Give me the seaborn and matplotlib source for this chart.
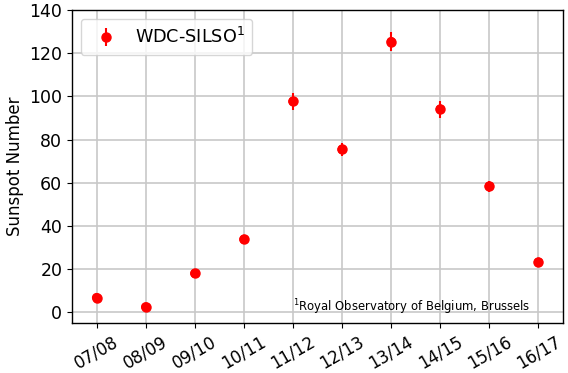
import matplotlib
matplotlib.use("Agg")
import matplotlib.pyplot as plt
import seaborn as sns
import pandas as pd

seasons = ["07/08", "08/09", "09/10", "10/11", "11/12", "12/13", "13/14", "14/15", "15/16", "16/17"]
sunspots = [6.8, 2.5, 18.0, 33.8, 97.7, 75.4, 125.4, 94.1, 58.4, 23.2]
errors = [1.5, 1.0, 1.5, 2.0, 4.0, 3.0, 4.5, 4.0, 2.5, 1.5]

sns.set_style("ticks")
plt.rcParams['font.family'] = ['DejaVu Sans']
plt.rcParams.update({"text.color": "black", "axes.labelcolor": "black",
                     "xtick.color": "black", "ytick.color": "black"})

df = pd.DataFrame({"x": range(len(seasons)), "season": seasons, "ssn": sunspots, "err": errors})

fig = plt.figure(figsize=(5.68, 3.73), dpi=100)
ax = fig.add_axes([0.1268, 0.134, 0.8644, 0.839])

ax.errorbar(df["x"], df["ssn"], yerr=df["err"], fmt="o", color="red", ecolor="red",
            markersize=6.5, elinewidth=1.5, capsize=0, label="WDC-SILSO$^1$", zorder=3)
sns.scatterplot(data=df, x="x", y="ssn", color="red", s=45, edgecolor="none", legend=False, ax=ax, zorder=4)

ax.set_xlim(-0.5, 9.5)
ax.set_ylim(-5, 140)
ax.set_xticks(range(len(seasons)))
ax.set_xticklabels(seasons, rotation=30, ha="center", fontsize=12)
ax.tick_params(axis="x", pad=3.5)
ax.set_yticks(range(0, 141, 20))
ax.tick_params(axis="y", labelsize=12.5)
ax.set_xlabel("")
ax.set_ylabel("Sunspot Number", fontsize=12)
ax.grid(True, color="#c8c8c8", linewidth=1.2)
ax.set_axisbelow(True)
for s in ax.spines.values():
    s.set_visible(True)
    s.set_color("black")
    s.set_linewidth(1.0)

leg = ax.legend(loc="upper left", fontsize=12.7, frameon=True, fancybox=True, borderpad=0.45,
                handletextpad=0.6, handlelength=2.0)
leg.get_frame().set_edgecolor("#cccccc")

ax.text(0.45, 0.05, "$^1$Royal Observatory of Belgium, Brussels", transform=ax.transAxes,
        fontsize=8.4, va="center", ha="left")

fig.savefig("out.png", dpi=100)
